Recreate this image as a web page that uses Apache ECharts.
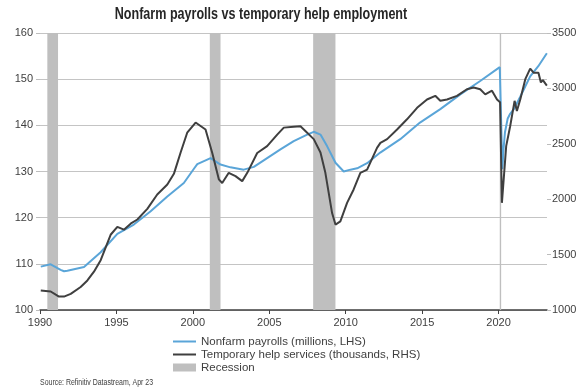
<!DOCTYPE html>
<html>
<head>
<meta charset="utf-8">
<script src="https://cdn.jsdelivr.net/npm/echarts@6/dist/echarts.min.js"></script>
<style>
html,body{margin:0;padding:0;background:#fff;}
#c{width:581px;height:391px;}
</style>
</head>
<body>
<div id="c"></div>
<script>
const titleText = 'Nonfarm payrolls vs temporary help employment';
const sourceText = 'Source: Refinitiv Datastream, Apr 23';
const xTickYears = [1990, 1995, 2000, 2005, 2010, 2015, 2020];

// Nonfarm payrolls (millions, LHS)
const nfpYears = [1990.05,1990.70,1991.35,1991.57,1991.79,1992.88,1993.97,1995.06,1996.14,1997.24,1998.33,1999.41,2000.07,2000.29,2001.16,2001.81,2002.46,2003.33,2003.99,2004.86,2005.73,2006.60,2007.48,2007.91,2008.35,2008.78,2009.33,2009.87,2010.31,2010.75,2011.40,2012.26,2013.57,2014.86,2016.19,2017.50,2018.80,2020.08,2020.25,2020.33,2020.42,2020.60,2020.76,2021.00,2021.42,2022.07,2022.60,2023.16];
const nfpValues = [109.4,109.9,108.7,108.4,108.5,109.3,112.5,116.5,118.5,121.4,124.6,127.5,130.6,131.6,132.9,131.5,130.9,130.4,131.0,132.9,134.8,136.6,138.0,138.6,138.0,135.5,131.9,130.0,130.4,130.7,131.8,134.1,137.0,140.6,143.5,146.7,149.6,152.6,130.5,135.0,138.5,141.5,142.5,143.5,146.2,150.6,152.8,155.6];

// Temporary help services (thousands, RHS)
const tempYears = [1990.05,1990.70,1991.03,1991.24,1991.57,1992.01,1992.66,1993.10,1993.53,1993.97,1994.62,1995.06,1995.49,1995.93,1996.37,1997.02,1997.67,1998.33,1998.76,1999.20,1999.63,2000.18,2000.83,2001.27,2001.70,2001.92,2002.35,2002.79,2003.23,2003.56,2004.21,2004.86,2005.52,2005.95,2006.60,2007.04,2007.48,2007.91,2008.35,2008.67,2009.11,2009.33,2009.65,2010.09,2010.52,2010.96,2011.40,2012.05,2012.27,2012.71,2013.36,2014.01,2014.67,2015.32,2015.86,2016.19,2016.63,2017.28,2017.93,2018.37,2018.80,2019.13,2019.57,2019.90,2020.10,2020.22,2020.50,2020.76,2021.05,2021.20,2021.42,2021.75,2022.07,2022.29,2022.61,2022.77,2022.90,2023.16];
const tempValues = [1175,1167,1138,1121,1121,1146,1208,1267,1346,1450,1679,1750,1725,1779,1817,1913,2042,2133,2229,2421,2600,2692,2629,2417,2179,2146,2238,2208,2163,2238,2417,2479,2583,2646,2654,2658,2600,2542,2421,2238,1875,1771,1800,1967,2088,2238,2267,2463,2508,2542,2629,2721,2825,2900,2933,2888,2900,2933,2992,3008,2992,2946,2979,2900,2875,1967,2479,2658,2888,2796,2900,3083,3179,3142,3142,3054,3075,3025];

// Recessions
const recessionStart = [1990.48, 2001.11, 2007.87, 2020.08];
const recessionEnd   = [1991.18, 2001.81, 2009.33, 2020.17];

const FONT = '"Liberation Sans", Arial, sans-serif';
const LINE_ICON = 'path://M0,0L23,0L23,2L0,2Z';
const chart = echarts.init(document.getElementById('c'));

const nfpData = nfpYears.map((y, i) => [y, nfpValues[i]]);
const tempData = tempYears.map((y, i) => [y, tempValues[i]]);
const recAreas = recessionStart.map((s, i) => [{xAxis: s}, {xAxis: recessionEnd[i]}]);

chart.setOption({
  animation: false,
  backgroundColor: '#fff',
  graphic: [
    {type: 'text', x: 261, y: 15, scaleX: 0.785, scaleY: 1, z: 10,
     style: {text: titleText, font: 'bold 16px ' + FONT, fill: '#262626', textAlign: 'center', textVerticalAlign: 'middle'}},
    {type: 'text', x: 40, y: 383, scaleX: 0.82, scaleY: 1, z: 10,
     style: {text: sourceText, font: '8.5px ' + FONT, fill: '#404040', textAlign: 'left', textVerticalAlign: 'middle'}}
  ],
  grid: {left: 40, right: 34, top: 33, bottom: 81},
  legend: {
    orient: 'vertical', left: 168, top: 330, height: 56,
    itemWidth: 23, itemHeight: 8, itemGap: 0,
    textStyle: {fontFamily: FONT, fontSize: 11.5, lineHeight: 13, color: '#404040'},
    data: [
      {name: 'Nonfarm payrolls (millions, LHS)', icon: LINE_ICON, itemStyle: {color: '#5aa5d8'}},
      {name: 'Temporary help services (thousands, RHS)', icon: LINE_ICON, itemStyle: {color: '#3f3f3f'}},
      {name: 'Recession', icon: 'rect', itemStyle: {color: '#bfbfbf'}}
    ]
  },
  xAxis: {
    type: 'value', min: 1990, max: 2023.17, interval: 5,
    axisLine: {show: true, lineStyle: {color: '#404040', width: 1.5}},
    axisTick: {show: true, length: 4, customValues: xTickYears, lineStyle: {color: '#404040'}},
    axisLabel: {customValues: xTickYears, formatter: v => String(Math.round(v)), fontFamily: FONT, fontSize: 11, color: '#404040', margin: 7},
    splitLine: {show: false}
  },
  yAxis: [
    {
      type: 'value', min: 100, max: 160, interval: 10, position: 'left',
      axisLine: {show: false},
      axisTick: {show: true, length: 4, lineStyle: {color: '#bdbdbd'}},
      axisLabel: {formatter: v => String(v), fontFamily: FONT, fontSize: 11, color: '#404040', margin: 7},
      splitLine: {show: true, lineStyle: {color: '#c4c4c4', width: 1}}
    },
    {
      type: 'value', min: 1000, max: 3500, interval: 500, position: 'right',
      axisLine: {show: false},
      axisTick: {show: true, length: 4, lineStyle: {color: '#bdbdbd'}},
      axisLabel: {formatter: v => String(v), fontFamily: FONT, fontSize: 11, color: '#404040', margin: 5},
      splitLine: {show: false}
    }
  ],
  series: [
    {
      name: 'Recession', type: 'line', data: [], yAxisIndex: 0,
      itemStyle: {color: '#bfbfbf'},
      markArea: {silent: true, itemStyle: {color: '#bfbfbf'}, data: recAreas}
    },
    {
      name: 'Nonfarm payrolls (millions, LHS)', type: 'line', yAxisIndex: 0,
      data: nfpData, showSymbol: false, symbol: 'none', smooth: false,
      lineStyle: {color: '#5aa5d8', width: 2}, itemStyle: {color: '#5aa5d8'}, z: 3
    },
    {
      name: 'Temporary help services (thousands, RHS)', type: 'line', yAxisIndex: 1,
      data: tempData, showSymbol: false, symbol: 'none', smooth: false,
      lineStyle: {color: '#3f3f3f', width: 2}, itemStyle: {color: '#3f3f3f'}, z: 4
    }
  ]
});
</script>
</body>
</html>
